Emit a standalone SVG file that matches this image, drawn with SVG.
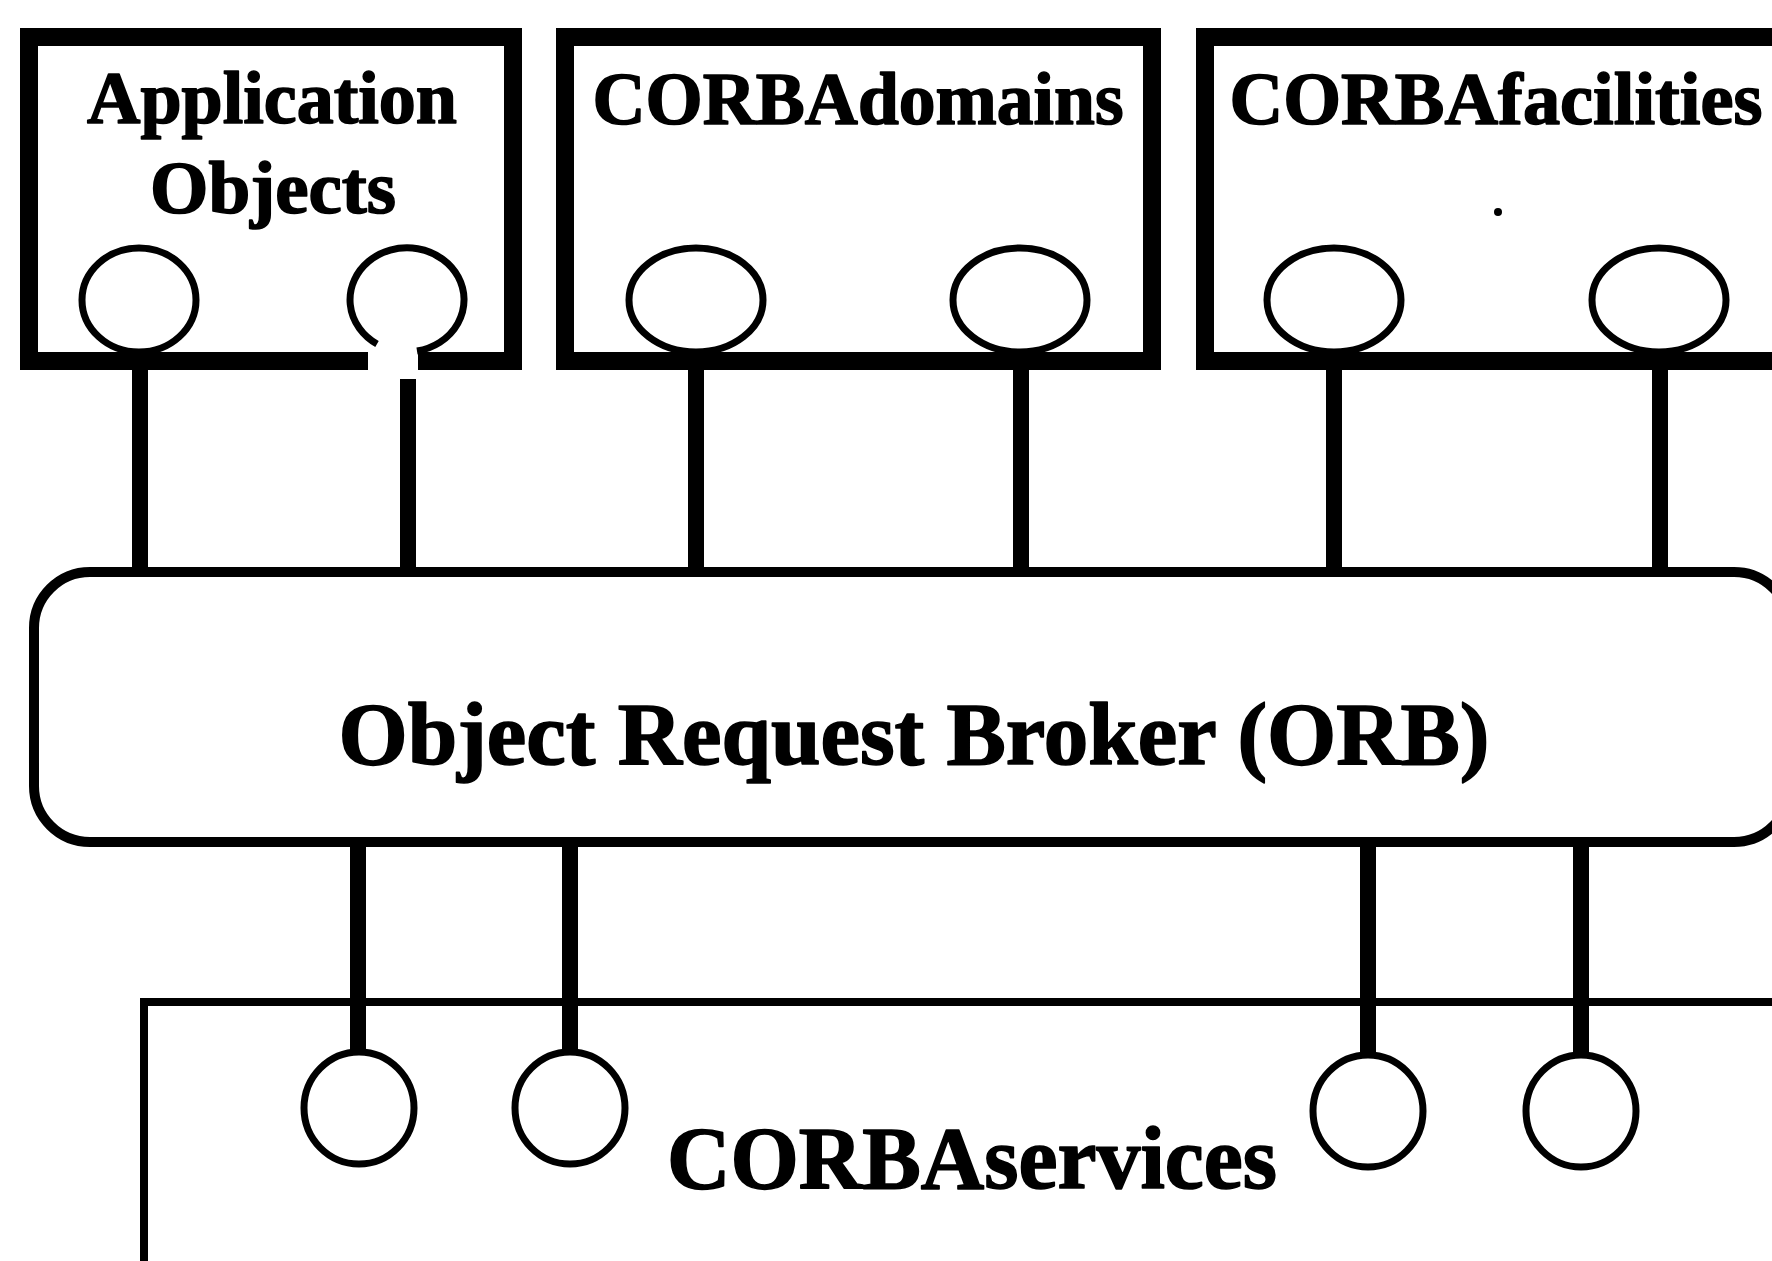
<svg xmlns="http://www.w3.org/2000/svg" width="1772" height="1261" viewBox="0 0 1772 1261">
  <style>
    .frame { fill: none; stroke: #000; stroke-width: 18; stroke-linejoin: miter; }
    .port { fill: none; stroke: #000; stroke-width: 7; }
    .port-lo { fill: #fff; stroke: #000; stroke-width: 7; }
    .wire { stroke: #000; stroke-width: 16; fill: none; }
    .bus { fill: #fff; stroke: #000; stroke-width: 10; }
    .svc { fill: none; stroke: #000; stroke-width: 8; }
    .label { font-family: "Liberation Serif", "Times New Roman", serif; font-weight: bold; fill: #000; stroke: #000; stroke-width: 1.6; stroke-linejoin: round; text-anchor: middle; }
    .small { font-size: 74px; }
    .large { font-size: 89px; }
  </style>
  <rect width="1772" height="1261" fill="#fff"/>

  <!-- interface stubs joining each component to the broker -->
  <g id="connectors">
    <line class="wire" x1="140" y1="361" x2="140" y2="576"/>
    <line class="wire" x1="408" y1="379" x2="408" y2="576"/>
    <line class="wire" x1="696" y1="361" x2="696" y2="576"/>
    <line class="wire" x1="1021" y1="361" x2="1021" y2="576"/>
    <line class="wire" x1="1334" y1="361" x2="1334" y2="576"/>
    <line class="wire" x1="1660" y1="361" x2="1660" y2="576"/>
    <line class="wire" x1="358" y1="838" x2="358" y2="1056"/>
    <line class="wire" x1="570" y1="838" x2="570" y2="1056"/>
    <line class="wire" x1="1368" y1="838" x2="1368" y2="1058"/>
    <line class="wire" x1="1581" y1="838" x2="1581" y2="1058"/>
  </g>

  <g id="app-objects">
    <path class="frame" d="M368,361 H29 V37 H513 V361 H418"/>
    <text class="label small" x="272" y="123" textLength="370" lengthAdjust="spacingAndGlyphs">Application</text>
    <text class="label small" x="273" y="213" textLength="246" lengthAdjust="spacingAndGlyphs">Objects</text>
    <ellipse class="port" cx="139" cy="300" rx="57" ry="52"/>
    <path class="port" d="M417,351 A57,52 0 1 0 377,344"/>
  </g>

  <g id="corba-domains">
    <rect class="frame" x="565" y="37" width="587" height="324"/>
    <text class="label small" x="858" y="124" textLength="531" lengthAdjust="spacingAndGlyphs">CORBAdomains</text>
    <ellipse class="port" cx="696" cy="300" rx="67" ry="52"/>
    <ellipse class="port" cx="1020" cy="300" rx="67" ry="52"/>
  </g>

  <g id="corba-facilities">
    <rect class="frame" x="1205" y="37" width="700" height="324"/>
    <text class="label small" x="1496" y="124" textLength="533" lengthAdjust="spacingAndGlyphs">CORBAfacilities</text>
    <ellipse cx="1498" cy="212" rx="4" ry="4" fill="#000"/>
    <ellipse class="port" cx="1334" cy="300" rx="67" ry="52"/>
    <ellipse class="port" cx="1659" cy="300" rx="67" ry="52"/>
  </g>

  <g id="orb">
    <rect class="bus" x="34" y="572" width="1756" height="270" rx="56" ry="56"/>
    <text class="label large" x="914" y="764" textLength="1151" lengthAdjust="spacingAndGlyphs">Object Request Broker (ORB)</text>
  </g>

  <g id="corba-services">
    <path class="svc" d="M144,1270 V1002 H1790"/>
    <text class="label large" x="972" y="1188" textLength="610" lengthAdjust="spacingAndGlyphs">CORBAservices</text>
    <ellipse class="port-lo" cx="359" cy="1108" rx="55" ry="56"/>
    <ellipse class="port-lo" cx="570" cy="1108" rx="55" ry="56"/>
    <ellipse class="port-lo" cx="1368" cy="1111" rx="55" ry="56"/>
    <ellipse class="port-lo" cx="1581" cy="1111" rx="55" ry="56"/>
  </g>
</svg>
